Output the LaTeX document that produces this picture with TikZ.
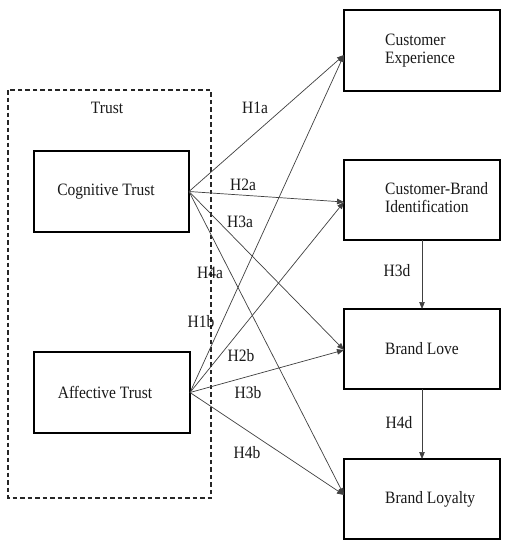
\documentclass[tikz,border=0pt]{standalone}
\usepackage{fontspec}
\usepackage{graphicx}
\setmainfont{Liberation Serif}
\usetikzlibrary{arrows.meta}
\newcommand\tallt[1]{\scalebox{1}[1.12]{#1}}
\newcommand\twolines[2]{\tallt{\begin{tabular}{@{}l@{}}#1\\#2\end{tabular}}}
\begin{document}
\begin{tikzpicture}[x=1pt,y=-1pt,
  box/.style={draw=black,line width=1.2pt,minimum width=156pt,minimum height=80pt,inner sep=0pt,outer sep=0pt},
  txt/.style={font=\fontsize{15.5}{16}\selectfont,inner sep=0pt,align=left,text=black!90},
  lbl/.style={font=\fontsize{15.5}{16}\selectfont,inner sep=0pt,text=black!90},
  conn/.style={draw=black!75,line width=0.7pt,-{Triangle[length=7pt,width=5.5pt]}},
  trustbox/.style={draw=black!85,line width=1.2pt,dash pattern=on 4.5pt off 3pt}]
\useasboundingbox (0,0) rectangle (508,550);
\fill[white] (0,0) rectangle (508,550);
% Trust group
\draw[trustbox] (8,90) rectangle (211,498);
\node[lbl] (trust) at (107,108) {\tallt{Trust}};
% left boxes
\node[box,minimum width=155pt,minimum height=81pt] (cog) at (111.5,191.5) {};
\node[txt] (cogT) at (106,191.5) {\tallt{Cognitive Trust}};
\node[box,minimum height=81pt] (aff) at (112,392.5) {};
\node[txt] (affT) at (105,392.5) {\tallt{Affective Trust}};
% right boxes
\node[box,minimum height=81pt] (ce) at (422,50.5) {};
\node[txt,anchor=west] (ceT) at (385,50.5) {\twolines{Customer}{Experience}};
\node[box] (cbi) at (422,200) {};
\node[txt,anchor=west] (cbiT) at (385,200) {\twolines{Customer-Brand}{Identification}};
\node[box] (bl) at (422,349) {};
\node[txt,anchor=west] (blT) at (385,349) {\tallt{Brand Love}};
\node[box] (loy) at (422,499) {};
\node[txt,anchor=west] (loyT) at (385,499) {\tallt{Brand Loyalty}};
% connectors from Cognitive Trust
\draw[conn] (cog.east) -- ([yshift=-4.5pt]ce.west);
\draw[conn] (cog.east) -- ([yshift=-2pt]cbi.west);
\draw[conn] (cog.east) -- ([yshift=-1pt]bl.west);
\draw[conn] (cog.east) -- ([yshift=4pt]loy.west);
% connectors from Affective Trust
\draw[conn] (aff.east) -- ([yshift=-4.5pt]ce.west);
\draw[conn] (aff.east) -- ([yshift=-2pt]cbi.west);
\draw[conn] (aff.east) -- ([yshift=-1pt]bl.west);
\draw[conn] (aff.east) -- ([yshift=4pt]loy.west);
% vertical connectors
\draw[conn] (cbi.south) -- (bl.north);
\draw[conn] (bl.south) -- (loy.north);
% labels
\node[lbl] (h1a) at (255,108) {\tallt{H1a}};
\node[lbl] (h2a) at (243,185) {\tallt{H2a}};
\node[lbl] (h3a) at (240,222) {\tallt{H3a}};
\node[lbl] (h4a) at (210,273) {\tallt{H4a}};
\node[lbl] (h1b) at (201,322) {\tallt{H1b}};
\node[lbl] (h2b) at (241,356) {\tallt{H2b}};
\node[lbl] (h3b) at (248,393) {\tallt{H3b}};
\node[lbl] (h4b) at (247,453) {\tallt{H4b}};
\node[lbl] (h3d) at (397,271) {\tallt{H3d}};
\node[lbl] (h4d) at (399,423) {\tallt{H4d}};
\end{tikzpicture}
\end{document}
